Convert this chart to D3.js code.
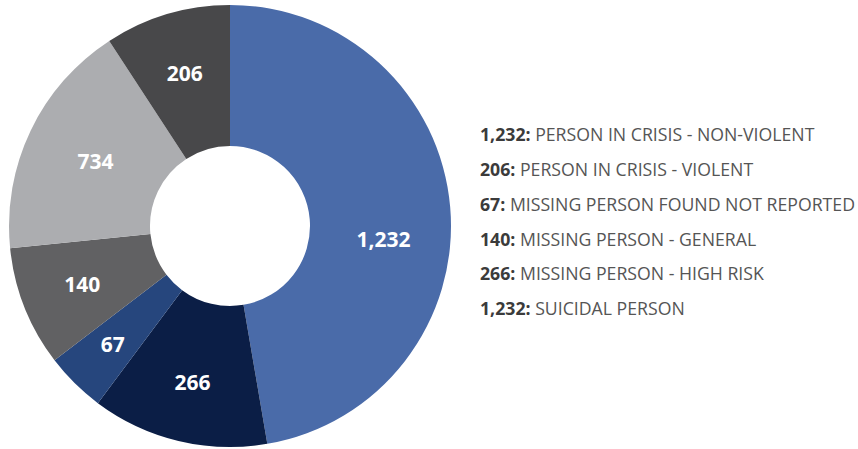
<!DOCTYPE html>
<html>
<head>
<meta charset="utf-8">
<script src="https://cdn.jsdelivr.net/npm/d3@7"></script>
<style>
  body { margin: 0; background: #fff; }
  svg { display: block; }
</style>
</head>
<body>
<div id="chart"></div>
<script>
// values printed on the slices (clockwise from 12 o'clock)
var sliceLabels = ["1,232", "266", "67", "140", "734", "206"];
// share of the circle each slice takes in the picture (percent)
var sliceShares = [47.3, 12.9, 4.4, 8.8, 17.4, 9.2];
var sliceColors = ["#4a6ba9", "#0b1e46", "#26467d", "#616163", "#acadb0", "#48484a"];

// legend rows
var legendValues = ["1,232", "206", "67", "140", "266", "1,232"];
var legendNames = [
  "PERSON IN CRISIS - NON-VIOLENT",
  "PERSON IN CRISIS - VIOLENT",
  "MISSING PERSON FOUND NOT REPORTED",
  "MISSING PERSON - GENERAL",
  "MISSING PERSON - HIGH RISK",
  "SUICIDAL PERSON"
];

var width = 858, height = 449;
var cx = 230, cy = 226;
var outerR = 221, innerR = 80;

// label placement tweaks (radius from centre, extra turn in degrees)
var labelRadius = [154, 161, 167, 159, 149, 159];
var labelTurn = [9.8, 0, 0, 0, 0, 0];

var svg = d3.select("#chart").append("svg")
  .attr("width", width)
  .attr("height", height);

var data = sliceShares.map(function(d, i) {
  return {share: d, label: sliceLabels[i], color: sliceColors[i]};
});

var pie = d3.pie()
  .sort(null)
  .value(function(d) { return d.share; });

var arc = d3.arc().innerRadius(innerR).outerRadius(outerR);

var g = svg.append("g")
  .attr("transform", "translate(" + cx + "," + cy + ")");

var slices = g.selectAll(".slice")
  .data(pie(data))
  .enter().append("g")
  .attr("class", "slice");

slices.append("path")
  .attr("d", arc)
  .attr("fill", function(d) { return d.data.color; });

slices.append("text")
  .attr("transform", function(d, i) {
    var a = (d.startAngle + d.endAngle) / 2 + labelTurn[i] * Math.PI / 180;
    var r = labelRadius[i];
    return "translate(" + (r * Math.sin(a)) + "," + (-r * Math.cos(a)) + ")";
  })
  .attr("text-anchor", "middle")
  .attr("dy", "0.36em")
  .style("font-family", "'Open Sans', sans-serif")
  .style("font-weight", "700")
  .style("font-size", "21px")
  .attr("fill", "#fff")
  .text(function(d) { return d.data.label; });

// legend
var legend = svg.append("g")
  .attr("transform", "translate(480,0)");

var y = d3.scalePoint()
  .domain(d3.range(legendNames.length))
  .range([135, 309]);

var rows = legend.selectAll(".row")
  .data(legendNames)
  .enter().append("text")
  .attr("class", "row")
  .attr("x", 0)
  .attr("y", function(d, i) { return y(i); })
  .attr("dy", "0.35em")
  .style("font-family", "'Open Sans', sans-serif")
  .style("font-size", "17.7px");

rows.append("tspan")
  .style("font-weight", "700")
  .attr("fill", "#3b3b3b")
  .text(function(d, i) { return legendValues[i] + ": "; });

rows.append("tspan")
  .attr("fill", "#555555")
  .text(function(d) { return d; });
</script>
</body>
</html>
